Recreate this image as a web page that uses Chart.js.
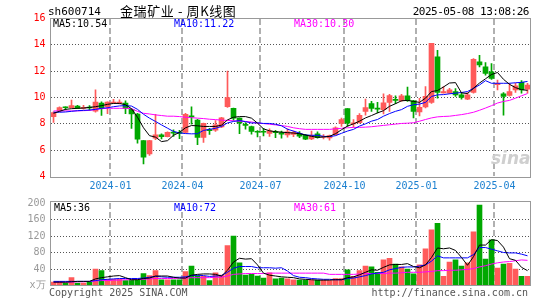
<!DOCTYPE html>
<html>
<head>
<meta charset="utf-8">
<script src="https://cdn.jsdelivr.net/npm/chart.js@4.4.1/dist/chart.umd.min.js"></script>
<style>
  html, body { margin: 0; padding: 0; background: #fff; }
  #wrap { position: relative; width: 545px; height: 300px; overflow: hidden; font-family: 'DejaVu Sans Mono', monospace; font-size: 10px; }
  #wrap canvas { position: absolute; left: 0; }
  .t { position: absolute; white-space: nowrap; line-height: 12px; }
  .box { position: absolute; border: 1px solid #999; box-sizing: border-box; pointer-events: none; }
</style>
</head>
<body>
<div id="wrap">
  <canvas id="price" width="545" height="192" style="top:0"></canvas>
  <canvas id="vol" width="545" height="108" style="top:192px"></canvas>
  <div class="box" style="left:50px;top:18px;width:481px;height:160px"></div>
  <div class="box" style="left:50px;top:201px;width:481px;height:85px"></div>

  <div class="t" style="left:48px;top:6px;font-size:11px;color:#000">sh600714</div>
  <div class="t" style="left:120px;top:2px;font-family:'Noto Sans CJK SC';font-size:13px;line-height:17px;letter-spacing:0.6px;color:#000">金瑞矿业 - 周K线图</div>
  <div class="t" style="right:16px;top:6px;font-size:11px;letter-spacing:-0.5px;color:#000">2025-05-08 13:08:26</div>

  <div class="t" style="left:53px;top:18px;color:#000">MA5:10.54</div>
  <div class="t" style="left:174px;top:18px;color:#0000ff">MA10:11.22</div>
  <div class="t" style="left:294px;top:18px;color:#ff00ff">MA30:10.30</div>

  <div class="t" style="left:54px;top:202px;color:#000">MA5:36</div>
  <div class="t" style="left:174px;top:202px;color:#0000ff">MA10:72</div>
  <div class="t" style="left:294px;top:202px;color:#ff00ff">MA30:61</div>

  <div class="t" style="left:491px;top:148px;font-family:'DejaVu Sans';font-style:italic;font-weight:bold;font-size:17px;line-height:20px;color:#cfcfcf">sina</div>

  <div class="t" style="left:49px;top:287px;color:#555">Copyright 2025 SINA.COM</div>
  <div class="t" style="right:17px;top:287px;color:#555">http://finance.sina.com.cn</div>
</div>

<script>
'use strict';

// weekly candles, oldest first
var open  = [8.55, 8.98, 9.27, 9.23, 9.35, 9.18, 9.25, 8.96, 9.58, 9.30,
             9.56, 9.56, 9.58, 9.10, 8.75, 6.72, 5.71, 6.92, 7.17, 7.02,
             7.34, 7.32, 7.35, 8.57, 8.28, 6.97, 7.52, 7.52, 7.77, 9.31,
             9.18, 8.43, 7.93, 7.80, 7.40, 7.40, 7.27, 7.38, 7.33, 7.15,
             7.20, 7.25, 7.15, 6.85, 7.25, 6.98, 6.93, 7.18, 8.03, 9.15,
             8.00, 8.08, 8.95, 9.53, 9.16, 9.08, 9.63, 9.83, 9.75, 10.13,
             9.75, 8.90, 9.28, 9.63, 13.08, 10.35, 10.33, 10.45, 10.20, 9.88,
             10.38, 12.70, 12.33, 11.95, 10.98, 10.28, 10.15, 10.58, 11.15, 10.63];
var close = [8.86, 9.23, 9.22, 9.38, 9.18, 9.22, 9.20, 9.66, 9.18, 9.66,
             9.66, 9.66, 9.18, 8.75, 6.84, 5.46, 6.72, 7.17, 7.02, 7.35,
             7.30, 7.28, 8.73, 8.53, 6.97, 8.03, 7.48, 7.92, 8.45, 9.99,
             8.43, 8.05, 7.88, 7.42, 7.36, 7.36, 7.47, 7.33, 7.22, 7.40,
             7.35, 7.07, 6.83, 7.10, 6.95, 7.02, 7.10, 7.70, 8.33, 8.05,
             8.05, 8.65, 9.23, 9.18, 9.12, 9.60, 10.15, 9.78, 10.13, 9.75,
             8.95, 9.25, 10.08, 14.12, 10.38, 10.45, 10.58, 10.20, 10.00, 10.20,
             12.90, 12.48, 11.83, 11.45, 11.02, 10.08, 10.45, 10.88, 10.58, 10.95];
var high  = [8.92, 9.30, 9.30, 9.80, 9.40, 9.40, 9.38, 10.59, 9.68, 9.68,
             9.86, 9.82, 9.75, 9.15, 8.80, 6.72, 6.75, 8.73, 7.25, 7.40,
             7.55, 7.50, 8.80, 9.30, 8.35, 8.05, 7.65, 8.25, 8.50, 12.00,
             9.20, 8.45, 8.10, 7.82, 7.48, 7.65, 7.62, 7.50, 7.45, 7.62,
             7.45, 7.42, 7.20, 7.45, 7.40, 7.18, 7.15, 7.78, 8.43, 9.15,
             8.33, 8.78, 9.88, 9.70, 9.63, 10.28, 10.25, 10.13, 10.25, 10.80,
             9.78, 9.93, 10.83, 14.12, 13.58, 10.83, 10.70, 10.68, 10.38, 10.38,
             12.95, 13.20, 12.65, 12.58, 11.33, 10.38, 11.08, 11.08, 11.28, 11.08];
var low   = [8.10, 8.95, 9.05, 9.20, 9.15, 9.12, 9.02, 8.88, 8.63, 8.78,
             9.55, 9.52, 8.78, 7.65, 6.54, 4.96, 5.60, 6.80, 6.85, 7.00,
             7.05, 6.88, 7.30, 7.98, 6.42, 6.59, 7.20, 7.42, 7.70, 9.25,
             8.25, 7.25, 7.60, 7.22, 7.00, 7.08, 7.05, 6.95, 6.92, 6.98,
             7.02, 6.95, 6.80, 6.80, 6.92, 6.85, 6.75, 7.13, 7.80, 7.80,
             7.75, 8.05, 8.65, 8.95, 8.83, 8.75, 8.95, 9.53, 9.70, 9.70,
             8.45, 8.60, 9.20, 9.55, 9.95, 10.33, 10.30, 10.08, 9.88, 9.83,
             10.33, 12.33, 11.70, 11.38, 10.58, 8.65, 10.10, 10.38, 10.33, 10.33];

var ma5  = [8.80, 8.95, 9.10, 9.15, 9.18, 9.20, 9.25, 9.30, 9.38, 9.48,
            9.55, 9.55, 9.45, 9.15, 8.50, 7.70, 7.10, 6.99, 6.65, 6.72,
            7.13, 7.35, 7.70, 7.87, 7.85, 7.80, 7.80, 7.80, 7.90, 8.30,
            8.50, 8.55, 8.55, 8.43, 8.05, 7.62, 7.47, 7.40, 7.37, 7.33,
            7.30, 7.25, 7.15, 7.05, 6.98, 7.00, 7.05, 7.25, 7.55, 7.83,
            8.00, 8.20, 8.45, 8.63, 8.83, 9.00, 9.33, 9.53, 9.75, 9.78,
            9.70, 9.63, 9.95, 10.45, 10.53, 10.80, 11.10, 11.13, 10.35, 10.30,
            10.70, 11.10, 11.42, 11.75, 11.90, 11.38, 11.00, 10.75, 10.60, 10.54];
var ma10 = [8.88, 8.88, 8.90, 8.95, 9.00, 9.02, 9.05, 9.10, 9.18, 9.22,
            9.30, 9.36, 9.38, 9.35, 9.10, 8.73, 8.43, 8.18, 7.92, 7.67,
            7.42, 7.31, 7.26, 7.24, 7.25, 7.50, 7.58, 7.66, 7.80, 8.07,
            8.18, 8.25, 8.17, 8.06, 8.08, 8.03, 8.03, 7.97, 7.85, 7.59,
            7.45, 7.30, 7.15, 7.13, 7.13, 7.05, 7.03, 7.10, 7.28, 7.45,
            7.58, 7.83, 8.00, 8.20, 8.33, 8.58, 8.78, 8.95, 9.08, 9.33,
            9.45, 9.50, 9.63, 10.08, 10.20, 10.22, 10.28, 10.33, 10.38, 10.45,
            10.70, 10.95, 11.28, 11.08, 11.08, 11.08, 11.08, 11.12, 11.15, 11.22];
var ma30 = [8.98, 8.98, 8.98, 8.98, 8.98, 9.00, 9.02, 9.08, 9.15, 9.18,
            9.18, 9.18, 9.18, 9.15, 8.95, 8.80, 8.75, 8.68, 8.63, 8.58,
            8.58, 8.55, 8.50, 8.47, 8.43, 8.40, 8.35, 8.32, 8.28, 8.26,
            8.23, 8.20, 8.18, 8.14, 8.05, 8.02, 7.97, 7.92, 7.87, 7.80,
            7.70, 7.63, 7.58, 7.58, 7.58, 7.58, 7.58, 7.62, 7.66, 7.70,
            7.73, 7.73, 7.75, 7.78, 7.83, 7.88, 7.93, 7.98, 8.03, 8.05,
            8.08, 8.20, 8.33, 8.45, 8.53, 8.56, 8.58, 8.64, 8.70, 8.78,
            8.88, 9.03, 9.20, 9.38, 9.58, 9.70, 9.78, 9.95, 10.13, 10.30];

// volume, x10k lots
var vol = [8, 10, 6, 19, 6, 6, 8, 40, 36, 15,
           15, 15, 12, 13, 14, 29, 24, 36, 14, 14,
           14, 14, 34, 47, 24, 22, 12, 31, 25, 97,
           120, 55, 25, 27, 23, 18, 31, 16, 18, 16,
           14, 13, 13, 13, 13, 13, 12, 17, 17, 38,
           22, 36, 47, 45, 32, 62, 66, 52, 45, 40,
           28, 50, 89, 135, 151, 22, 57, 62, 47, 55,
           130, 195, 64, 111, 42, 52, 54, 40, 22, 22];
var vma5  = [8, 8, 8, 9, 10, 10, 10, 16, 19, 21,
             23, 24, 19, 14, 14, 17, 18, 23, 23, 23,
             20, 18, 18, 25, 27, 28, 28, 27, 23, 37,
             57, 66, 64, 65, 50, 30, 25, 23, 21, 20,
             19, 16, 15, 14, 13, 13, 13, 14, 14, 19,
             21, 26, 32, 38, 37, 44, 50, 51, 51, 53,
             46, 43, 50, 68, 91, 89, 91, 85, 68, 49,
             70, 98, 98, 111, 109, 93, 65, 61, 44, 36];
var vma10 = [10, 10, 10, 10, 10, 10, 10, 12, 14, 15,
             16, 17, 17, 17, 17, 18, 20, 22, 21, 20,
             20, 20, 21, 24, 25, 24, 22, 23, 24, 32,
             42, 46, 46, 46, 43, 43, 43, 42, 43, 35,
             24, 20, 19, 17, 16, 15, 15, 14, 14, 17,
             18, 21, 24, 28, 30, 32, 38, 41, 44, 45,
             45, 47, 50, 59, 72, 67, 67, 67, 67, 67,
             75, 92, 92, 88, 84, 80, 79, 79, 76, 72];
var vma30 = [8, 8, 8, 8, 9, 9, 10, 11, 12, 12,
             13, 13, 14, 14, 15, 15, 16, 17, 17, 17,
             17, 18, 18, 19, 19, 19, 19, 20, 20, 23,
             27, 28, 29, 29, 29, 29, 30, 30, 30, 30,
             30, 30, 30, 30, 30, 30, 27, 27, 27, 27,
             27, 28, 29, 29, 29, 29, 30, 30, 31, 32,
             32, 32, 33, 34, 36, 36, 37, 37, 38, 39,
             41, 45, 48, 52, 55, 57, 58, 60, 62, 61];

// first week of each labelled month (index into the arrays above)
var monthStarts = [10, 22, 35, 49, 61, 74];
var monthLabels = ['2024-01', '2024-04', '2024-07', '2024-10', '2025-01', '2025-04'];
var priceTicks = [4, 6, 8, 10, 12, 14, 16];
var volTicks = [0, 40, 80, 120, 160, 200];
var volUnit = 'x万';

var RED = '#ff5a5a';
var GREEN = '#00a800';
var FONT = { family: 'DejaVu Sans Mono', size: 10 };

var colors = open.map(function (o, i) { return close[i] >= o ? RED : GREEN; });
function pts(arr) { return arr.map(function (v, i) { return { x: i, y: v }; }); }
function range(a, b) { return a.map(function (v, i) { return { x: i, y: [v, b[i]] }; }); }
function line(arr, color) {
  return { type: 'line', data: pts(arr), borderColor: color, backgroundColor: color, fill: false,
           borderWidth: 1, pointRadius: 0, tension: 0, order: 0 };
}

// dashed month lines + dotted value lines, placed with the chart's own scales
function dashV(ctx, x, y0, y1, w, on, off) {
  for (var y = y0; y < y1; y += on + off) ctx.fillRect(x, y, w, Math.min(on, y1 - y));
}
function dashH(ctx, y, x0, x1, on, off) {
  for (var x = x0; x < x1; x += on + off) ctx.fillRect(x, y, Math.min(on, x1 - x), 1);
}
var panelGrid = {
  id: 'panelGrid',
  beforeDatasetsDraw: function (chart) {
    var ctx = chart.ctx, a = chart.chartArea;
    var xs = chart.scales.x, ys = chart.scales.y;
    ctx.save();
    ctx.fillStyle = '#b0b0b0';
    xs.ticks.forEach(function (t) {
      dashV(ctx, Math.floor(xs.getPixelForValue(t.value)) - 1, Math.ceil(a.top), Math.floor(a.bottom), 2, 6, 3);
    });
    ctx.fillStyle = '#555555';
    ys.ticks.forEach(function (t) {
      if (t.value === ys.min || t.value === ys.max) return;
      dashH(ctx, Math.floor(ys.getPixelForValue(t.value)), Math.ceil(a.left), Math.floor(a.right), 1, 2);
    });
    ctx.restore();
  }
};

function xScale(showLabels, h) {
  return {
    type: 'linear', min: -0.5, max: 79.5, offset: false,
    afterBuildTicks: function (s) { s.ticks = monthStarts.map(function (m) { return { value: m - 0.5 }; }); },
    afterFit: function (s) { s.height = h; },
    grid: { display: false, drawTicks: false, offset: false },
    border: { display: false },
    ticks: {
      display: showLabels, padding: 4, color: '#1c80d0', font: FONT, maxRotation: 0, autoSkip: false,
      callback: function (v, i) { return monthLabels[i]; }
    }
  };
}

function yScale(tickVals, color, fmt) {
  return {
    min: tickVals[0], max: tickVals[tickVals.length - 1],
    afterBuildTicks: function (s) { s.ticks = tickVals.map(function (v) { return { value: v }; }); },
    afterFit: function (s) { s.width = 50.5; },
    grid: { display: false, drawTicks: false },
    border: { display: false },
    ticks: { padding: 5, color: color, font: FONT, callback: fmt }
  };
}

new Chart(document.getElementById('price'), {
  type: 'bar',
  data: {
    datasets: [
      line(ma5, '#000000'),
      line(ma10, '#0000ff'),
      line(ma30, '#ff00ff'),
      { data: range(open, close), backgroundColor: colors, barThickness: 5, minBarLength: 1, grouped: false, order: 1 },
      { data: range(low, high), backgroundColor: colors, barThickness: 1, grouped: false, order: 2 }
    ]
  },
  options: {
    responsive: false, animation: false, events: [],
    layout: { padding: { top: 18.5, right: 14.5, left: 0, bottom: 0 } },
    plugins: { legend: { display: false }, tooltip: { enabled: false } },
    scales: {
      x: xScale(true, 15.5),
      y: yScale(priceTicks, '#ff0000', function (v) { return v; })
    }
  },
  plugins: [panelGrid]
});

new Chart(document.getElementById('vol'), {
  type: 'bar',
  data: {
    datasets: [
      line(vma5, '#000000'),
      line(vma10, '#0000ff'),
      line(vma30, '#ff00ff'),
      { data: pts(vol), backgroundColor: colors, barThickness: 5, grouped: false, order: 1 }
    ]
  },
  options: {
    responsive: false, animation: false, events: [],
    layout: { padding: { top: 9.5, right: 14.5, left: 0, bottom: 0 } },
    plugins: { legend: { display: false }, tooltip: { enabled: false } },
    scales: {
      x: xScale(false, 14.5),
      y: yScale(volTicks, '#999999', function (v) { return v === 0 ? volUnit : v; })
    }
  },
  plugins: [panelGrid]
});
</script>
</body>
</html>
